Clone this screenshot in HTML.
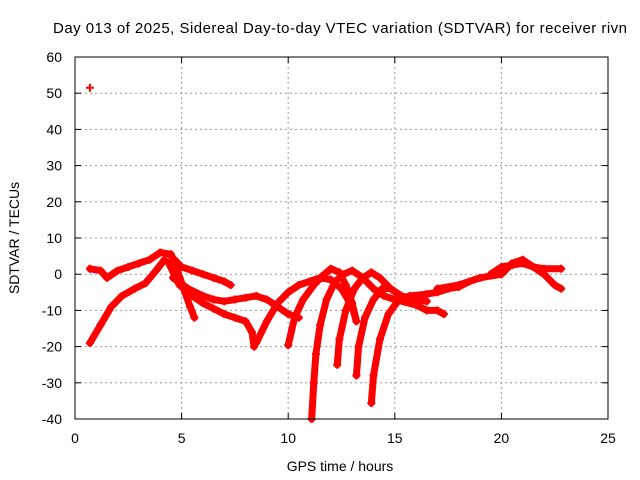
<!DOCTYPE html>
<html><head><meta charset="utf-8"><style>
body{margin:0;background:#fff}
svg{display:block;font-family:"Liberation Sans",sans-serif}
</style></head><body>
<svg id="chart" width="640" height="480">
<text x="340" y="33" text-anchor="middle" font-size="15" textLength="574">Day 013 of 2025, Sidereal Day-to-day VTEC variation (SDTVAR) for receiver rivn</text>
<text x="340" y="471" text-anchor="middle" font-size="14">GPS time / hours</text>
<text transform="translate(19,238) rotate(-90)" text-anchor="middle" font-size="14">SDTVAR / TECUs</text>
<g id="grid"></g><g id="axes"></g><g id="marks"></g>
<rect x="75" y="57" width="533" height="362" fill="none" stroke="#000" stroke-width="1"/>
</svg>
<script>
const xTicks=[0,5,10,15,20,25];
const yTicks=[60,50,40,30,20,10,0,-10,-20,-30,-40];
const trackA=[[0.7,-19],[1.2,-14],[1.7,-9],[2.2,-6],[2.8,-4],[3.3,-2.5],[3.8,1],[4.2,4]];
const trackB=[[0.7,1.5],[1.2,1],[1.5,-1],[2,1],[2.5,2],[3,3],[3.5,4],[4,6],[4.5,5.5],[4.8,1],[5.1,-4],[5.4,-9],[5.6,-12]];
const trackC=[[4.5,5],[5,2],[5.5,1],[6,0],[6.5,-1],[7,-2],[7.3,-3]];
const trackD=[[4.4,3],[4.9,-3],[5.5,-6],[6,-8],[6.5,-9.5],[7,-11],[7.5,-12],[8,-13],[8.3,-16],[8.4,-20]];
const trackE=[[4.6,-1],[5.3,-4],[6,-6],[6.5,-7],[7,-7.5],[7.5,-7],[8,-6.5],[8.5,-6],[9,-7],[9.5,-9],[10,-11],[10.5,-12]];
const trackF=[[8.5,-19],[9,-13],[9.5,-8],[10,-5],[10.5,-3],[11,-2],[11.5,-1],[12,-1.5],[12.5,-4],[13,-9],[13.2,-13]];
const trackG=[[10,-19.6],[10.3,-12],[10.7,-7],[11.2,-3],[11.6,-0.5],[12,1.5],[12.4,0.5],[12.7,-3],[13,-8],[13.2,-13]];
const trackH=[[11.1,-40],[11.2,-30],[11.3,-22],[11.5,-14],[11.8,-7],[12.2,-2],[12.6,0],[13,1],[13.5,-1],[14,-4],[14.5,-6],[15,-7],[15.5,-6.5],[16,-6]];
const trackI=[[12.3,-25],[12.4,-18],[12.7,-10],[13.1,-4],[13.5,-1],[13.9,0.5],[14.3,-1],[14.8,-4],[15.3,-6]];
const trackJ=[[13.2,-28],[13.3,-20],[13.6,-12],[14,-7],[14.4,-4],[14.8,-4],[15.3,-6],[16,-7],[16.5,-7.5]];
const trackK=[[13.9,-35.6],[14,-28],[14.3,-18],[14.7,-11],[15.2,-7],[15.7,-6],[16.5,-5.5],[17,-5],[17.5,-4],[18,-3.5],[18.5,-2]];
const trackL=[[15,-7],[16,-8.5],[16.5,-10],[17,-10],[17.3,-11]];
const trackM=[[17,-4],[18,-3],[19,-1],[20,0],[20.5,3],[21,4],[21.5,2],[22,0],[22.5,-3],[22.8,-4]];
const trackN=[[19.5,0],[20,2],[20.5,2.5],[21,3],[21.5,2],[22,1.5],[22.8,1.5]];
const outlier=[[0.7,51.5]];
const tracks=[trackA,trackB,trackC,trackD,trackE,trackF,trackG,trackH,trackI,trackJ,trackK,trackL,trackM,trackN];
const NS='http://www.w3.org/2000/svg';
const X=h=>75+h*(533/25), Y=v=>57+(60-v)*(362/100);
const grid=document.getElementById('grid'),axes=document.getElementById('axes'),marks=document.getElementById('marks');
function mk(t,a,p){const e=document.createElementNS(NS,t);for(const k in a)e.setAttribute(k,a[k]);p.appendChild(e);return e;}
xTicks.forEach(t=>{
 if(t>0&&t<25){const g=mk('line',{x1:X(t),x2:X(t),y1:57,y2:419,stroke:'#999','stroke-dasharray':'2,3'},grid);
 
 }
 mk('line',{x1:X(t),x2:X(t),y1:419,y2:413,stroke:'#000'},axes);
 mk('line',{x1:X(t),x2:X(t),y1:57,y2:63,stroke:'#000'},axes);
 const l=mk('text',{x:X(t),y:443,'text-anchor':'middle','font-size':14},axes);l.textContent=t;
 
 
});
yTicks.forEach(t=>{
 if(t<60&&t>-40){const g=mk('line',{x1:75,x2:608,y1:Y(t),y2:Y(t),stroke:'#999','stroke-dasharray':'2,3'},grid);
 
 }
 mk('line',{x1:75,x2:81,y1:Y(t),y2:Y(t),stroke:'#000'},axes);
 mk('line',{x1:602,x2:608,y1:Y(t),y2:Y(t),stroke:'#000'},axes);
 const l=mk('text',{x:62,y:Y(t)+5,'text-anchor':'end','font-size':14},axes);l.textContent=t;
 
 
});
function plus(h,v){const p=mk('path',{d:`M${X(h)-4},${Y(v)}h8M${X(h)},${Y(v)-4}v8`,stroke:'#f00','stroke-width':2},marks);
 
 }
tracks.forEach(tr=>{
 const pl=mk('polyline',{points:tr.map(p=>X(p[0])+','+Y(p[1])).join(' '),fill:'none',stroke:'#f00','stroke-width':7,'stroke-linejoin':'round','stroke-linecap':'round'},marks);
 
 
 tr.forEach(p=>plus(p[0],p[1]));
});
outlier.forEach(p=>plus(p[0],p[1]));
</script>
</body></html>
